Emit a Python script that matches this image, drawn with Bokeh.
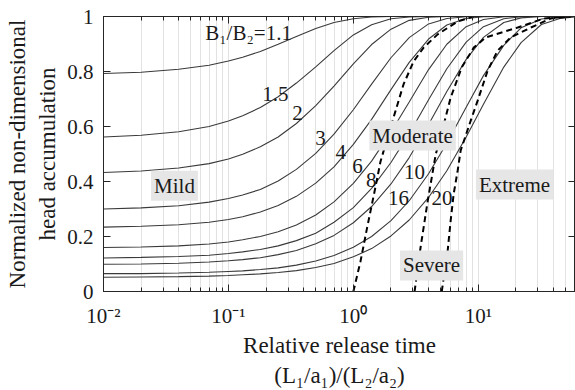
from bokeh.plotting import figure
from bokeh.models import FixedTicker, LogAxis, LinearAxis, Label
from bokeh.embed import file_html
from bokeh.resources import INLINE

# ---------------- data ----------------
ratios = ["1.1", "1.5", "2", "3", "4", "6", "8", "10", "16", "20"]

x_time = [0.01, 0.02, 0.04, 0.07, 0.1, 0.13, 0.18, 0.25, 0.35, 0.5, 0.7, 1,
          1.4, 2, 2.8, 4, 5.6, 8, 11, 16, 22, 32, 45, 60]

y_1_1 = [0.793, 0.797, 0.808, 0.823, 0.838, 0.852, 0.873, 0.899, 0.927, 0.956, 0.978, 0.992,
         0.998, 1.0, 1.0, 1.0, 1.0, 1.0, 1.0, 1.0, 1.0, 1.0, 1.0, 1.0]
y_1_5 = [0.562, 0.568, 0.581, 0.600, 0.620, 0.639, 0.669, 0.708, 0.758, 0.817, 0.876, 0.933,
         0.970, 0.992, 0.998, 1.0, 1.0, 1.0, 1.0, 1.0, 1.0, 1.0, 1.0, 1.0]
y_2 = [0.433, 0.438, 0.449, 0.465, 0.482, 0.499, 0.526, 0.562, 0.611, 0.676, 0.747, 0.828,
       0.898, 0.954, 0.986, 0.997, 1.0, 1.0, 1.0, 1.0, 1.0, 1.0, 1.0, 1.0]
y_3 = [0.300, 0.304, 0.312, 0.325, 0.338, 0.351, 0.371, 0.402, 0.444, 0.502, 0.572, 0.661,
       0.754, 0.850, 0.923, 0.973, 0.993, 0.999, 1.0, 1.0, 1.0, 1.0, 1.0, 1.0]
y_4 = [0.234, 0.237, 0.243, 0.252, 0.262, 0.272, 0.289, 0.313, 0.346, 0.394, 0.453, 0.535,
       0.626, 0.734, 0.833, 0.918, 0.969, 0.993, 0.999, 1.0, 1.0, 1.0, 1.0, 1.0]
y_6 = [0.160, 0.162, 0.166, 0.173, 0.180, 0.188, 0.200, 0.217, 0.242, 0.278, 0.326, 0.393,
       0.474, 0.580, 0.689, 0.807, 0.899, 0.963, 0.989, 0.999, 1.0, 1.0, 1.0, 1.0]
y_8 = [0.122, 0.124, 0.127, 0.132, 0.138, 0.144, 0.153, 0.166, 0.185, 0.212, 0.252, 0.305,
       0.375, 0.469, 0.574, 0.697, 0.810, 0.907, 0.963, 0.992, 0.999, 1.0, 1.0, 1.0]
y_10 = [0.099, 0.100, 0.103, 0.107, 0.112, 0.116, 0.123, 0.134, 0.149, 0.174, 0.204, 0.250,
        0.309, 0.391, 0.487, 0.607, 0.727, 0.844, 0.924, 0.978, 0.995, 1.0, 1.0, 1.0]
y_16 = [0.065, 0.065, 0.067, 0.070, 0.073, 0.075, 0.080, 0.086, 0.096, 0.111, 0.131, 0.161,
        0.200, 0.258, 0.330, 0.428, 0.539, 0.670, 0.785, 0.895, 0.959, 0.991, 0.999, 1.0]
y_20 = [0.052, 0.053, 0.054, 0.056, 0.058, 0.061, 0.064, 0.069, 0.076, 0.087, 0.102, 0.126,
        0.156, 0.202, 0.260, 0.342, 0.439, 0.562, 0.681, 0.816, 0.905, 0.971, 0.993, 0.999]

series = [y_1_1, y_1_5, y_2, y_3, y_4, y_6, y_8, y_10, y_16, y_20]

# boundaries between severity regions (dashed)
bound1_x = [1.0, 1.14, 1.29, 1.5, 1.65, 1.88, 2.17, 2.52, 3.03, 3.65, 4.73, 6.84, 9.2]
bound1_y = [0.0, 0.109, 0.233, 0.378, 0.473, 0.56, 0.655, 0.753, 0.836, 0.887, 0.935, 0.982, 1.0]
bound2_x = [3.09, 3.45, 3.93, 4.56, 5.29, 6.01, 7.37, 9.2, 11.5, 20.7, 33.6, 55]
bound2_y = [0.0, 0.16, 0.327, 0.498, 0.607, 0.705, 0.815, 0.887, 0.924, 0.96, 0.993, 1.0]
bound3_x = [5.1, 5.69, 6.01, 6.36, 6.84, 7.23, 8.71, 9.9, 11.9, 14.3, 18.2, 26.4, 38.2, 55]
bound3_y = [0.0, 0.149, 0.258, 0.356, 0.44, 0.513, 0.622, 0.695, 0.804, 0.876, 0.924, 0.96, 0.993, 1.0]

regions = ["Mild", "Moderate", "Severe", "Extreme"]

x_tick_values = [0.01, 0.1, 1, 10]
x_tick_labels = ["10\u207b\u00b2", "10\u207b\u00b9", "10\u2070", "10\u00b9"]
y_tick_values = [0, 0.2, 0.4, 0.6, 0.8, 1]
y_tick_labels = ["0", "0.2", "0.4", "0.6", "0.8", "1"]

# ---------------- figure ----------------
FONT = "Liberation Serif"
AX = "#262626"

p = figure(width=575, height=390, x_axis_type="log", x_range=(0.01, 60), y_range=(0, 1),
           output_backend="svg", toolbar_location=None,
           min_border_left=103, min_border_right=0, min_border_top=16, min_border_bottom=99)
p.outline_line_color = AX
p.background_fill_color = "white"
p.border_fill_color = "white"

x_minor = [m * d for d in (0.01, 0.1, 1, 10) for m in range(2, 10) if m * d < 60]
xt = FixedTicker(ticks=x_tick_values, minor_ticks=x_minor)
yt = FixedTicker(ticks=y_tick_values)

xa = p.xaxis[0]
xa.ticker = xt
xa.major_label_overrides = dict(zip(x_tick_values, x_tick_labels))
xa.axis_label = "Relative release time\n(L\u2081/a\u2081)/(L\u2082/a\u2082)"
xa.axis_label_standoff = 2

ya = p.yaxis[0]
ya.ticker = yt
ya.major_label_overrides = dict(zip(y_tick_values, y_tick_labels))
ya.axis_label = "Normalized non-dimensional\nhead accumulation"
ya.axis_label_standoff = 4

for ax in (xa, ya):
    ax.axis_line_color = AX
    ax.major_tick_line_color = AX
    ax.minor_tick_line_color = AX
    ax.major_tick_in = 7
    ax.major_tick_out = 0
    ax.minor_tick_in = 4
    ax.minor_tick_out = 0
    ax.major_label_text_font = FONT
    ax.major_label_text_font_size = "21px"
    ax.major_label_text_color = "#1a1a1a"
    ax.axis_label_text_font = FONT
    ax.axis_label_text_font_size = "23px"
    ax.axis_label_text_font_style = "normal"
    ax.axis_label_text_color = "#1a1a1a"
xa.major_label_standoff = 12
ya.major_label_standoff = 10
ya.minor_tick_in = 0

top = LogAxis(ticker=xt, major_tick_in=7, major_tick_out=0, minor_tick_in=4, minor_tick_out=0,
              major_label_text_font_size="1px", major_label_text_alpha=0, major_label_standoff=0,
              axis_line_color=AX, major_tick_line_color=AX, minor_tick_line_color=AX)
p.add_layout(top, "above")
right = LinearAxis(ticker=yt, major_tick_in=7, major_tick_out=0, minor_tick_in=0, minor_tick_out=0,
                   major_label_text_font_size="1px", major_label_text_alpha=0, major_label_standoff=0,
                   axis_line_color=AX, major_tick_line_color=AX)
p.add_layout(right, "right")

p.xgrid.grid_line_color = "#e2e2e2"
p.xgrid.minor_grid_line_color = "#e2e2e2"
p.ygrid.grid_line_color = None

for ys in series:
    p.line(x_time, ys, line_color="#3a3a3a", line_width=1.1)

for bx, by in ((bound1_x, bound1_y), (bound2_x, bound2_y), (bound3_x, bound3_y)):
    p.line(bx, by, line_color="black", line_width=2, line_dash="6 4")

# curve labels
curve_label_pos = [(0.145, 0.940), (0.238, 0.720), (0.357, 0.648), (0.546, 0.560),
                   (0.791, 0.506), (1.08, 0.455), (1.39, 0.404), (3.09, 0.433),
                   (2.30, 0.339), (5.13, 0.339)]
for i, (r, (lx, ly)) in enumerate(zip(ratios, curve_label_pos)):
    txt = "B\u2081/B\u2082=" + r if i == 0 else r
    p.add_layout(Label(x=lx, y=ly, text=txt, text_font=FONT, text_font_size="21px",
                       text_align="center", text_baseline="alphabetic", text_color="#1a1a1a"))

region_pos = [(0.037, 0.385), (2.98, 0.567), (4.23, 0.095), (19.5, 0.389)]
for name, (lx, ly) in zip(regions, region_pos):
    p.add_layout(Label(x=lx, y=ly, text=name, text_font=FONT, text_font_size="21px",
                       text_align="center", text_baseline="middle", text_color="#1a1a1a",
                       background_fill_color="#e6e6e6", padding=3))

open("out.html", "w").write(file_html(p, INLINE))
